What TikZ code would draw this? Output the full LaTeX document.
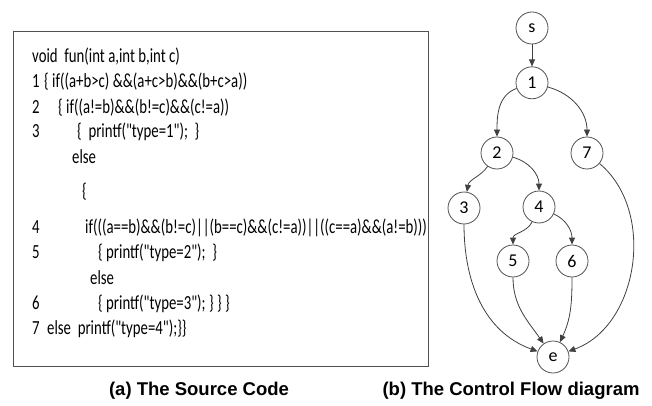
\documentclass[tikz,border=0pt]{standalone}
\usepackage{fontspec}
\setmainfont{Carlito}
\newfontfamily\codefont[FakeStretch=0.74]{Carlito}
\newfontfamily\capfont{Liberation Sans}
\usetikzlibrary{positioning}
\usetikzlibrary{arrows.meta}

\definecolor{edgegray}{RGB}{64,64,64}
\definecolor{ringgray}{RGB}{80,80,80}

\tikzset{
  code/.style={anchor=base west,inner sep=0pt,font=\codefont\fontsize{20}{20}\selectfont},
  vertex/.style={circle,draw=ringgray,line width=0.8pt,minimum size=32pt,inner sep=0pt,font=\fontsize{18}{18}\selectfont},
  flow/.style={draw=edgegray,line width=0.8pt,-{Triangle[length=7pt,width=6pt]}},
  caption/.style={anchor=base,inner sep=0pt,font=\capfont\bfseries\fontsize{18.5}{18.5}\selectfont}
}

\begin{document}
\begin{tikzpicture}[x=1pt,y=1pt]
\useasboundingbox (0,0) rectangle (652,-406);

% source listing
\draw[ringgray,line width=0.9pt] (13,-31) rectangle (428,-366);
\node[code] (l0) at (32,-63) {void\ \ fun(int a,int b,int c)};
\node[code] (n1) at (32,-88) {1};
\node[code] (l1) at (44,-88) {\{ if((a+b>c) \&\&(a+c>b)\&\&(b+c>a))};
\node[code] (n2) at (32,-114) {2};
\node[code] (l2) at (58,-114) {\{ if((a!=b)\&\&(b!=c)\&\&(c!=a))};
\node[code] (n3) at (32,-138) {3};
\node[code] (l3) at (77,-138) {\{\ \ printf("type=1");\ \ \}};
\node[code] (l4) at (72,-164) {else};
\node[code] (l5) at (82,-197) {\{};
\node[code] (n4) at (32,-233) {4};
\node[code] (l6) at (85,-233) {if(((a==b)\&\&(b!=c)||(b==c)\&\&(c!=a))||((c==a)\&\&(a!=b)))};
\node[code] (n5) at (32,-258) {5};
\node[code] (l7) at (98,-258) {\{ printf("type=2");\ \ \}};
\node[code] (l8) at (90,-284) {else};
\node[code] (n6) at (32,-309) {6};
\node[code] (l9) at (98,-309) {\{ printf("type=3"); \} \} \}};
\node[code] (n7) at (32,-334) {7};
\node[code] (l10) at (47,-334) {else\ \ printf("type=4");\}\}};

% flow graph
\node[vertex] (s) at (532,-28) {s};
\node[vertex] (1) [below=22pt of s] {1};
\node[vertex] (2) at (497,-153) {2};
\node[vertex] (7) at (587,-153) {7};
\node[vertex] (3) at (464,-208) {3};
\node[vertex] (4) at (539,-207) {4};
\node[vertex] (5) at (513,-261) {5};
\node[vertex] (6) at (572,-261) {6};
\node[vertex] (e) at (553,-357) {e};
\draw[flow] (s)--(1);
\draw[flow] (1) to[out=200,in=90] (2);
\draw[flow] (1) to[out=-15,in=90] (7);
\draw[flow] (2) to[out=235,in=80] (3);
\draw[flow] (2) to[out=-15,in=90] (4);
\draw[flow] (4) to[out=245,in=90] (5);
\draw[flow] (4) to[out=-25,in=90] (6);
\draw[flow] (3) to[out=-90,in=160] (e);
\draw[flow] (5) to[out=-90,in=125] (e);
\draw[flow] (6) to[out=-90,in=65] (e);
\draw[flow] (7) to[out=-40,in=20] (e);

% captions
\node[caption] (capa) at (199,-395) {(a) The Source Code};
\node[caption] (capb) at (511,-395) {(b) The Control Flow diagram};
\end{tikzpicture}
\end{document}
